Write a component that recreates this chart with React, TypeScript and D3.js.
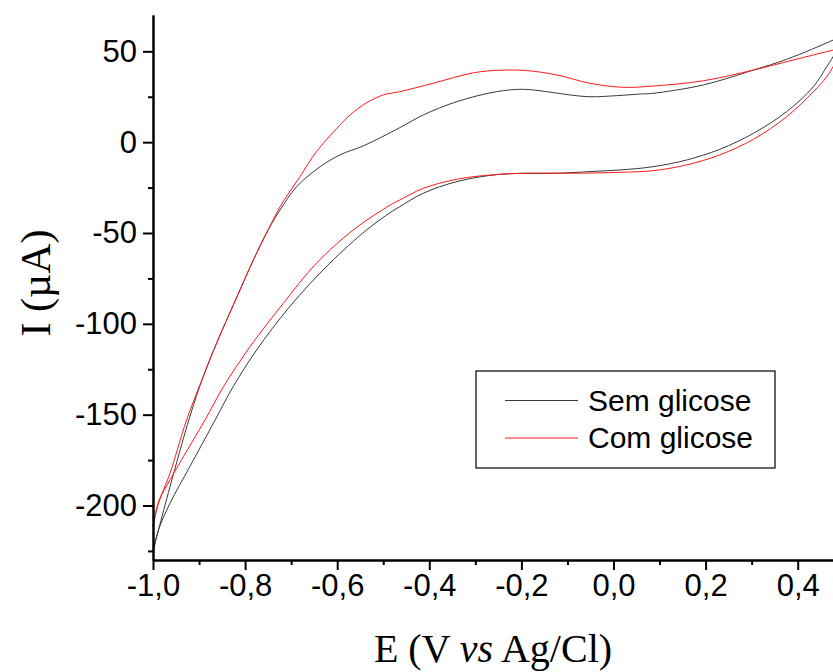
import React, { useEffect, useRef } from 'react';
import * as d3 from 'd3';

// cyclic voltammograms, with and without glucose

// Sem glicose: scan from -1,0 V up to the vertex, then back
const semPotential = [
  -1.0, -0.988, -0.963, -0.92, -0.891, -0.862, -0.811, -0.782, -0.75, -0.724, -0.688, -0.637,
  -0.594, -0.543, -0.464, -0.413, -0.34, -0.254, -0.196, -0.145, -0.095, -0.051, 0.007, 0.058,
  0.086, 0.195, 0.304, 0.376, 0.477, 0.5,
  0.477, 0.463, 0.434, 0.376, 0.304, 0.231, 0.159, 0.086, 0.014, -0.051, -0.123, -0.246,
  -0.34, -0.413, -0.464, -0.485, -0.536, -0.616, -0.703, -0.775, -0.826, -0.865, -0.92,
  -0.963, -0.988, -1.0,
];
const semCurrent = [
  -225.5, -213.4, -189.6, -151.1, -129.1, -110.7, -81.3, -64.8, -48.3, -37.3, -24.5, -13.5,
  -7.0, -2.0, 8.0, 15.0, 22.3, 27.8, 29.1, 27.8, 26.0, 25.0, 25.6, 26.5,
  26.9, 31.5, 39.7, 45.6, 56.2, 59.0,
  47.1, 41.6, 30.5, 16.8, 4.9, -3.9, -9.8, -13.5, -15.3, -16.2, -17.1, -17.7,
  -21.7, -28.1, -35.5, -38.8, -48.3, -66.6, -90.5, -114.4, -134.6, -152.9, -178.6,
  -198.7, -213.4, -225.5,
];

// Com glicose
const comPotential = [
  -1.0, -0.988, -0.963, -0.927, -0.891, -0.862, -0.811, -0.782, -0.75, -0.724, -0.681, -0.645,
  -0.601, -0.572, -0.536, -0.5, -0.464, -0.392, -0.304, -0.246, -0.189, -0.123, -0.051, 0.021,
  0.086, 0.195, 0.304, 0.39, 0.477, 0.5,
  0.477, 0.463, 0.434, 0.376, 0.304, 0.231, 0.159, 0.086, 0.014, -0.087, -0.196, -0.269,
  -0.34, -0.413, -0.464, -0.485, -0.565, -0.645, -0.717, -0.789, -0.847, -0.887, -0.934,
  -0.963, -0.988, -1.0,
];
const comCurrent = [
  -211.6, -198.7, -182.2, -152.9, -129.1, -110.7, -81.3, -64.8, -48.3, -35.5, -19.0, -5.2,
  7.6, 15.0, 21.7, 26.0, 27.8, 32.4, 38.2, 39.6, 39.4, 37.0, 32.4, 30.2,
  30.9, 33.8, 39.7, 45.2, 50.7, 52.0,
  41.6, 36.0, 27.8, 14.0, 1.6, -7.0, -12.5, -15.7, -16.6, -17.1, -17.1, -18.1,
  -20.4, -25.4, -31.8, -34.6, -48.3, -66.6, -88.7, -112.5, -134.6, -152.9, -173.1,
  -185.9, -197.9, -211.6,
];

const seriesNames = ['Sem glicose', 'Com glicose'];
const seriesColors = ['#3a3a3a', '#ff1a1a'];

const xMajorTicks = [-1.0, -0.8, -0.6, -0.4, -0.2, 0.0, 0.2, 0.4];
const xMinorTicks = [-0.9, -0.7, -0.5, -0.3, -0.1, 0.1, 0.3, 0.5];
const yMajorTicks = [50, 0, -50, -100, -150, -200];
const yMinorTicks = [25, -25, -75, -125, -175, -225];

const App = () => {
  const svgRef = useRef<SVGSVGElement>(null);

  useEffect(() => {
    const width = 833;
    const height = 672;
    const svg = d3.select(svgRef.current);
    svg.selectAll('*').remove();

    const sans = '"Liberation Sans", Arial, sans-serif';
    const serif = '"Liberation Serif", "Times New Roman", serif';

    const x = d3.scaleLinear().domain([-1.0, 0.5]).range([153, 843.75]);
    const y = d3.scaleLinear().domain([-230, 70]).range([560, 15]);

    const locale = d3.formatLocale({
      decimal: ',',
      thousands: '.',
      grouping: [3],
      currency: ['', ''],
      minus: '-',
    });
    const fmtX = locale.format('.1f');
    const fmtY = locale.format('d');

    svg.append('rect').attr('width', width).attr('height', height).attr('fill', '#fff');

    // curves
    const line = d3
      .line<[number, number]>()
      .x(d => x(d[0]))
      .y(d => y(d[1]))
      .curve(d3.curveCatmullRom.alpha(0.5));

    const series = [
      d3.zip(semPotential, semCurrent) as [number, number][],
      d3.zip(comPotential, comCurrent) as [number, number][],
    ];
    series.forEach((pts, i) => {
      svg.append('path')
        .attr('d', line(pts))
        .attr('fill', 'none')
        .attr('stroke', seriesColors[i])
        .attr('stroke-width', 1);
    });

    // axes
    const styleAxis = (g, withText) => {
      g.selectAll('path, line').attr('stroke', '#000').attr('stroke-width', 2);
      g.selectAll('text')
        .attr('font-family', sans)
        .attr('font-size', 31)
        .attr('fill', '#000');
      if (!withText) g.selectAll('text').remove();
    };

    svg.append('g')
      .attr('transform', 'translate(0, 560)')
      .call(d3.axisBottom(x).tickValues(xMinorTicks).tickSize(5).tickSizeOuter(0))
      .call(g => styleAxis(g, false));
    svg.append('g')
      .attr('transform', 'translate(0, 560)')
      .call(d3.axisBottom(x).tickValues(xMajorTicks).tickSize(10).tickSizeOuter(0).tickPadding(4).tickFormat(d => fmtX(d)))
      .call(g => styleAxis(g, true));

    svg.append('g')
      .attr('transform', 'translate(153, 0)')
      .call(d3.axisLeft(y).tickValues(yMinorTicks).tickSize(5).tickSizeOuter(0))
      .call(g => styleAxis(g, false));
    svg.append('g')
      .attr('transform', 'translate(153, 0)')
      .call(d3.axisLeft(y).tickValues(yMajorTicks).tickSize(10).tickSizeOuter(0).tickPadding(6).tickFormat(d => fmtY(d)))
      .call(g => styleAxis(g, true));

    // axis titles
    const xTitle = svg.append('text')
      .attr('x', 493)
      .attr('y', 662)
      .attr('text-anchor', 'middle')
      .attr('font-family', serif)
      .attr('font-size', 40)
      .attr('fill', '#000');
    xTitle.append('tspan').text('E (V ');
    xTitle.append('tspan').attr('font-style', 'italic').text('vs');
    xTitle.append('tspan').text(' Ag/Cl)');

    svg.append('text')
      .attr('transform', 'translate(50, 283) rotate(-90)')
      .attr('text-anchor', 'middle')
      .attr('font-family', serif)
      .attr('font-size', 42)
      .attr('fill', '#000')
      .text('I (µA)');

    // legend
    const legend = svg.append('g');
    legend.append('rect')
      .attr('x', 476)
      .attr('y', 371)
      .attr('width', 299)
      .attr('height', 97)
      .attr('fill', '#fff')
      .attr('stroke', '#000')
      .attr('stroke-width', 1.2);
    seriesNames.forEach((name, i) => {
      const ly = 400.5 + i * 37.5;
      legend.append('line')
        .attr('x1', 505)
        .attr('x2', 578)
        .attr('y1', ly)
        .attr('y2', ly)
        .attr('stroke', seriesColors[i])
        .attr('stroke-width', 1);
      legend.append('text')
        .attr('x', 588)
        .attr('y', ly + 10)
        .attr('font-family', sans)
        .attr('font-size', 30)
        .attr('fill', '#000')
        .text(name);
    });
  }, []);

  return (
    <svg
      ref={svgRef}
      width="833"
      height="672"
      style={{ position: 'absolute', left: 0, top: 0 }}
    />
  );
};

export default App;
